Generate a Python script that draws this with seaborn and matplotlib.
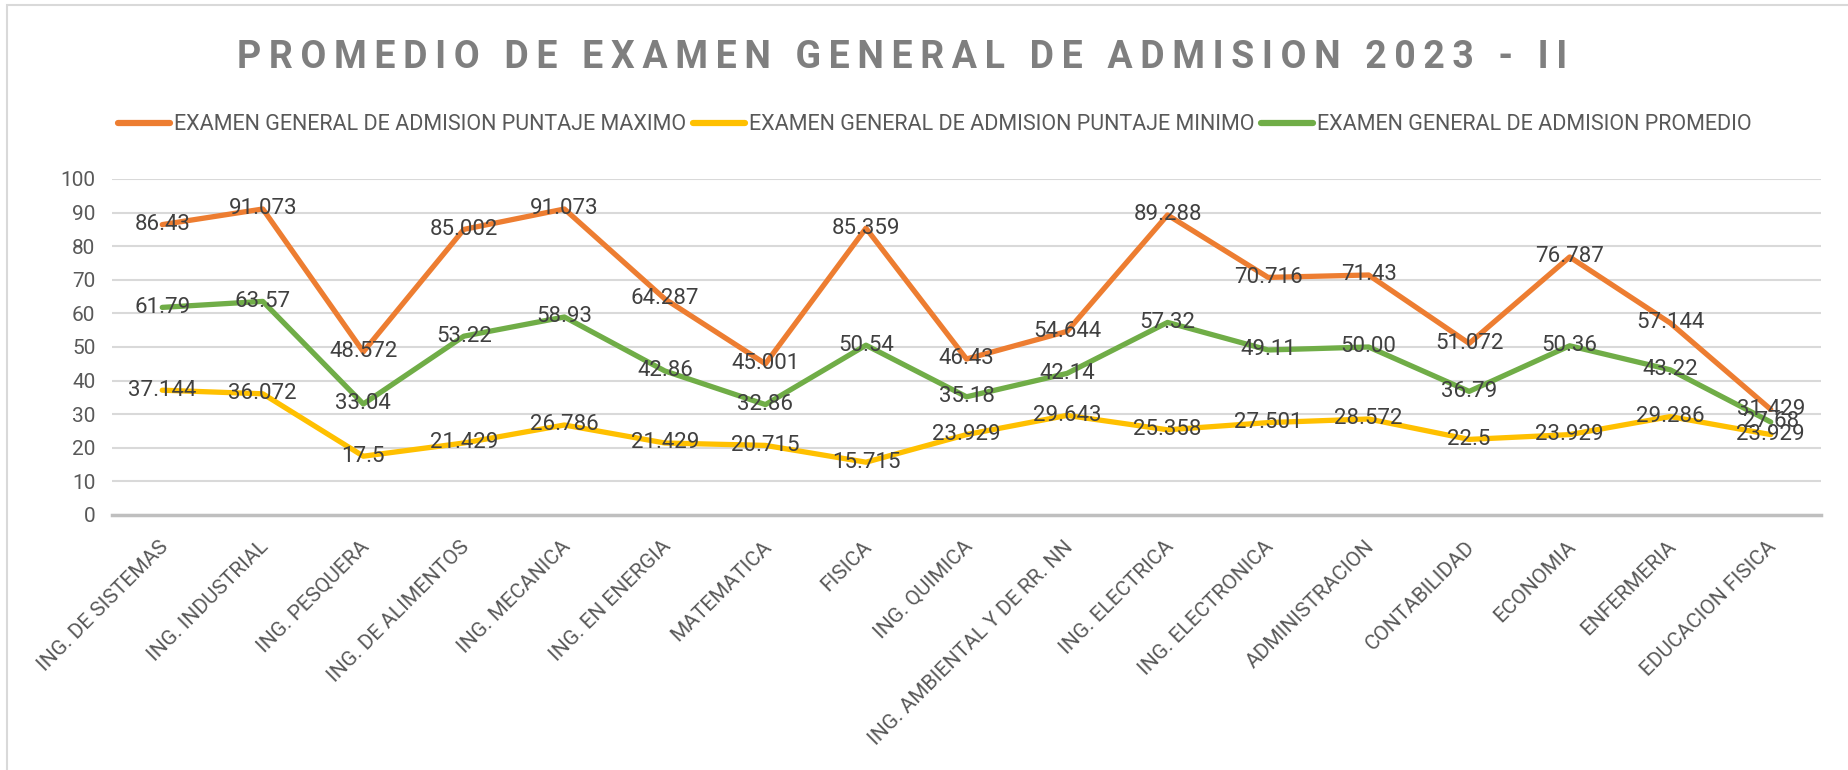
import matplotlib
matplotlib.use("Agg")
import matplotlib.pyplot as plt
import matplotlib.transforms as mtransforms
from matplotlib.lines import Line2D
from matplotlib.patches import Rectangle
import seaborn as sns
import pandas as pd

categories = ["ING. DE SISTEMAS", "ING. INDUSTRIAL", "ING. PESQUERA", "ING. DE ALIMENTOS",
              "ING. MECANICA", "ING. EN ENERGIA", "MATEMATICA", "FISICA", "ING. QUIMICA",
              "ING. AMBIENTAL Y DE RR. NN", "ING. ELECTRICA", "ING. ELECTRONICA",
              "ADMINISTRACION", "CONTABILIDAD", "ECONOMIA", "ENFERMERIA", "EDUCACION FISICA"]
puntaje_maximo = [86.43, 91.073, 48.572, 85.002, 91.073, 64.287, 45.001, 85.359, 46.43,
                  54.644, 89.288, 70.716, 71.43, 51.072, 76.787, 57.144, 31.429]
puntaje_minimo = [37.144, 36.072, 17.5, 21.429, 26.786, 21.429, 20.715, 15.715, 23.929,
                  29.643, 25.358, 27.501, 28.572, 22.5, 23.929, 29.286, 23.929]
promedio = [61.79, 63.57, 33.04, 53.22, 58.93, 42.86, 32.86, 50.54, 35.18,
            42.14, 57.32, 49.11, 50.00, 36.79, 50.36, 43.22, 27.68]
series_names = ["EXAMEN GENERAL DE ADMISION PUNTAJE MAXIMO",
                "EXAMEN GENERAL DE ADMISION PUNTAJE MINIMO",
                "EXAMEN GENERAL DE ADMISION PROMEDIO"]
label_formats = ["{:g}", "{:g}", "{:.2f}"]
colors = ["#ED7D31", "#FFC000", "#70AD47"]
y_ticks = [0, 10, 20, 30, 40, 50, 60, 70, 80, 90, 100]
title = "PROMEDIO DE EXAMEN GENERAL DE ADMISION 2023 - II"

sns.set_theme(style="white")
plt.rcParams["font.family"] = ["Roboto", "DejaVu Sans"]

rows = []
for name, vals in zip(series_names, [puntaje_maximo, puntaje_minimo, promedio]):
    for i, (c, v) in enumerate(zip(categories, vals)):
        rows.append({"pos": i, "categoria": c, "serie": name, "valor": v})
df = pd.DataFrame(rows)

fig = plt.figure(figsize=(18.48, 7.70), dpi=100)
ax = fig.add_axes([112/1848, 255/770, (1821-112)/1848, (515-179)/770])

sns.lineplot(data=df, x="pos", y="valor", hue="serie", palette=colors, sort=False,
             linewidth=3.8, ax=ax, legend=False, zorder=3)
for line in ax.get_lines():
    line.set_solid_capstyle("round")
    line.set_solid_joinstyle("round")

# data labels
for name, vals, fmt in zip(series_names, [puntaje_maximo, puntaje_minimo, promedio], label_formats):
    for i, v in enumerate(vals):
        ax.text(i, v, fmt.format(v), ha="center", va="center", fontsize=16,
                color="#404040", zorder=5)

ax.set_xlim(-0.5, len(categories) - 0.5)
ax.set_ylim(0, 100)
ax.set_yticks(y_ticks)
ax.set_yticklabels([str(t) for t in y_ticks], fontsize=15, color="#595959")
ax.set_xticks(range(len(categories)))
ax.tick_params(axis="y", length=0, pad=12)
ax.tick_params(axis="x", length=0, pad=0)
ax.set_xticklabels(categories, rotation=45, ha="right", rotation_mode="anchor",
                   fontsize=15, color="#595959")
offset = mtransforms.ScaledTranslation(-4/100, -22/100, fig.dpi_scale_trans)
for lbl in ax.get_xticklabels():
    lbl.set_transform(lbl.get_transform() + offset)
ax.set_xlabel("")
ax.set_ylabel("")
ax.yaxis.grid(True, color="#D9D9D9", linewidth=1.5, zorder=0)
ax.set_axisbelow(True)
for s in ["top", "right", "left"]:
    ax.spines[s].set_visible(False)
ax.spines["bottom"].set_color("#BFBFBF")
ax.spines["bottom"].set_linewidth(2.5)
ax.spines["bottom"].set_zorder(1)

spaced_title = "\u2009".join(title)
fig.text(902/1848, 1 - 57/770, spaced_title, ha="center", va="center", fontsize=27,
         fontweight="bold", color="#7F7F7F")

handles = [Line2D([0], [0], color=c, linewidth=4.5, solid_capstyle="round") for c in colors]
fig.legend(handles, series_names, loc="center", bbox_to_anchor=(935/1848, 1 - 125/770),
           ncol=3, frameon=False, fontsize=15.5, handlelength=2.4, handletextpad=0.2,
           columnspacing=0.3, labelcolor="#595959")

fig.patches.append(Rectangle((7/1848, -0.01), 1.0, 1 - 5/770 + 0.01, transform=fig.transFigure,
                             fill=False, edgecolor="#D9D9D9", linewidth=1.5))

fig.savefig("out.png", dpi=100, facecolor="white")
